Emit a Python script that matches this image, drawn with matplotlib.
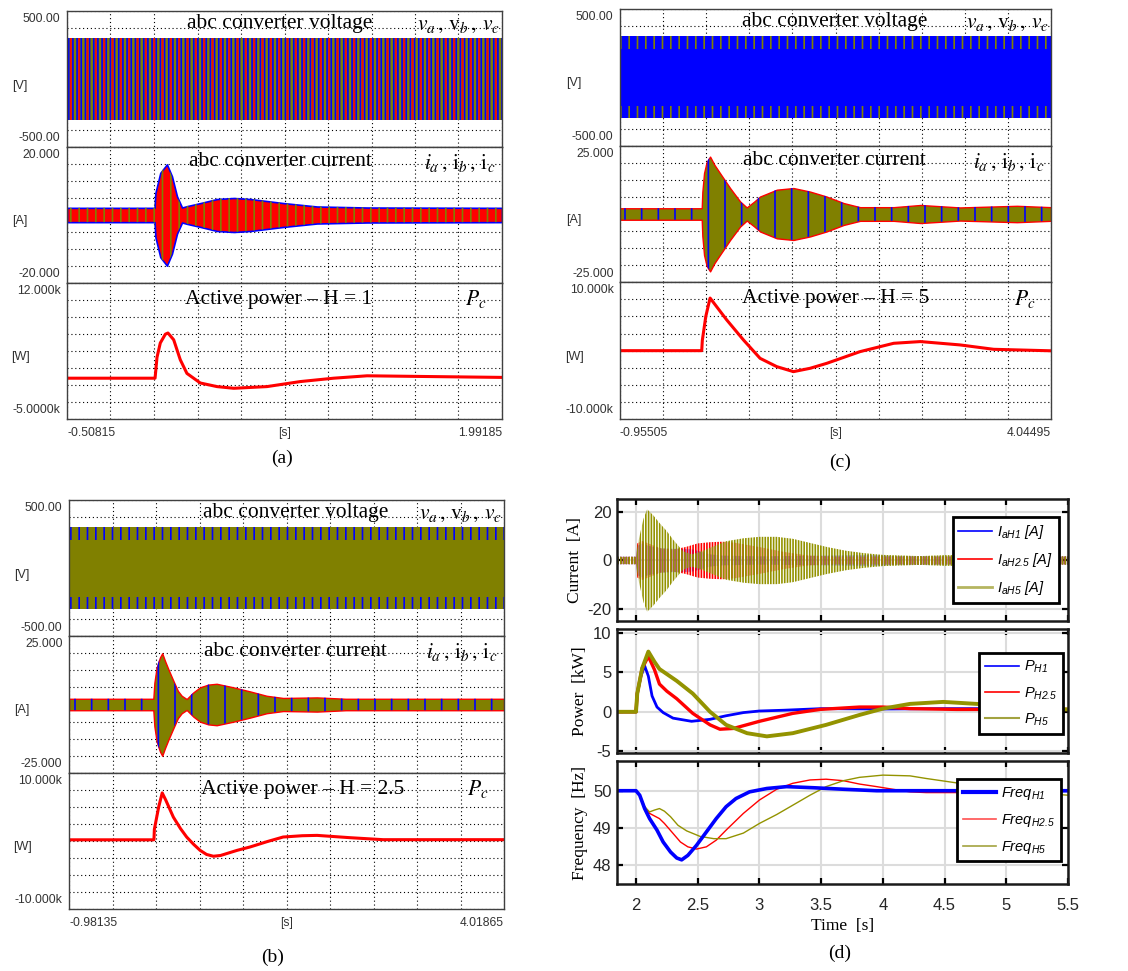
import numpy as np
import matplotlib
matplotlib.use("Agg")
import matplotlib.pyplot as plt
from matplotlib.lines import Line2D
from matplotlib.font_manager import FontProperties

W, H = 1128, 971
plt.rcParams.update({
    "font.family": "Liberation Sans",
    "mathtext.fontset": "stix",
    "mathtext.it": "Liberation Sans:italic",
    "mathtext.rm": "Liberation Sans:italic",
    "mathtext.bf": "Liberation Sans:bold:italic",
    "hatch.linewidth": 1.2,
    "axes.unicode_minus": False,
})

BLUE, RED, OLIVE, OLIVE_D = "#0000ff", "#ff0000", "#808000", "#939300"
SERIF = "Liberation Serif"

# ---------- panel (a): H = 1 ----------
A_TLIM = [-0.50815, 1.99185]
A_YLIM = [(-500, 500), (-20, 20), (-5000, 12000)]
A_YTXT = [("500.00", "-500.00"), ("20.000", "-20.000"), ("12.000k", "-5.0000k")]
A_XTXT = ["-0.50815", "[s]", "1.99185"]
A_V_PK = 300
A_I_T = [-0.50815, -0.005, 0.0, 0.028, 0.066, 0.095, 0.124, 0.153, 0.181, 0.258,
         0.354, 0.45, 0.545, 0.737, 0.928, 1.216, 1.99185]
A_I_PK = [2.1, 2.1, 6.5, 12.4, 14.9, 11.4, 5.5, 2.2, 2.6, 3.5,
          4.7, 5.0, 4.7, 3.5, 2.5, 2.2, 2.1]
A_P_T = [-0.50815, -0.002, 0.009, 0.028, 0.057, 0.072, 0.105, 0.143, 0.181, 0.258,
         0.354, 0.45, 0.641, 0.833, 1.024, 1.216, 1.599, 1.99185]
A_P_W = [100, 100, 2700, 4500, 5600, 5750, 4900, 2400, 700, -500,
         -950, -1160, -950, -320, 100, 400, 300, 200]

# ---------- panel (b): H = 2.5 ----------
B_TLIM = [-0.98135, 4.01865]
B_YLIM = [(-500, 500), (-25, 25), (-10000, 10000)]
B_YTXT = [("500.00", "-500.00"), ("25.000", "-25.000"), ("10.000k", "-10.000k")]
B_XTXT = ["-0.98135", "[s]", "4.01865"]
B_V_PK = 300
B_I_T = [-0.98135, -0.012, 0.0, 0.026, 0.065, 0.09, 0.122, 0.16, 0.218, 0.27,
         0.314, 0.371, 0.45, 0.525, 0.62, 0.716, 0.908, 1.1, 1.29, 1.48, 1.87, 2.2, 4.01865]
B_I_PK = [2.1, 2.1, 8, 13.6, 17.3, 18.8, 16, 13, 8.7, 5,
          3.2, 2.0, 4.5, 6.3, 7.3, 7.6, 6.3, 4.8, 3.2, 2.4, 2.6, 2.1, 2.1]
B_P_T = [-0.98135, -0.005, 0.0, 0.05, 0.09, 0.13, 0.218, 0.3, 0.371, 0.45,
         0.525, 0.6, 0.678, 0.76, 0.831, 0.95, 1.1, 1.3, 1.48, 1.7, 1.87, 2.25, 2.63, 4.01865]
B_P_W = [150, 150, 1700, 5000, 7030, 6000, 3480, 1800, 560, -500,
         -1390, -2000, -2260, -2150, -1870, -1400, -900, -100, 560, 750, 800, 460, 170, 170]

# ---------- panel (c): H = 5 ----------
C_TLIM = [-0.95505, 4.04495]
C_YLIM = [(-500, 500), (-25, 25), (-10000, 10000)]
C_YTXT = [("500.00", "-500.00"), ("25.000", "-25.000"), ("10.000k", "-10.000k")]
C_XTXT = ["-0.95505", "[s]", "4.04495"]
C_V_PK = 300
C_I_T = [-0.95505, -0.007, 0.0, 0.02, 0.05, 0.09, 0.14, 0.206, 0.322, 0.438,
         0.515, 0.6, 0.67, 0.864, 1.057, 1.25, 1.44, 1.64, 1.83, 2.22, 2.53, 2.99, 3.65, 4.04495]
C_I_PK = [2.1, 2.1, 8, 15, 19, 21, 18, 14.9, 9.5, 4.6,
          2.4, 4.5, 6.4, 8.9, 9.5, 8.2, 6.4, 4.0, 2.5, 2.5, 3.3, 2.4, 3.0, 2.5]
C_P_T = [-0.95505, -0.007, 0.0, 0.04, 0.09, 0.283, 0.477, 0.67, 0.864, 1.057,
         1.25, 1.444, 1.83, 2.22, 2.53, 2.99, 3.38, 4.04495]
C_P_W = [0, 0, 1500, 5000, 7700, 4500, 1570, -1120, -2340, -3070,
         -2580, -1850, -140, 1080, 1330, 840, 200, -20]

# ---------- panel (d): comparison ----------
D_XLIM = [1.846, 5.5]
D_XTICKS = [2, 2.5, 3, 3.5, 4, 4.5, 5, 5.5]
D_XTICKLABELS = ["2", "2.5", "3", "3.5", "4", "4.5", "5", "5.5"]
D_IH1_T = [1.846, 2.0, 2.01, 2.05, 2.1, 2.2, 2.3, 2.35, 2.45, 2.5, 2.6, 2.7, 3.0, 3.9, 4.1, 5.5]
D_IH1_PK = [1.5, 1.5, 6, 7, 6, 5, 4.8, 4.8, 4.6, 4, 2.5, 2, 1.7, 2.2, 1.8, 1.6]
D_IH25_T = [1.846, 2.0, 2.01, 2.05, 2.1, 2.2, 2.3, 2.4, 2.5, 2.6, 2.7, 2.8, 3.0, 3.2, 3.4, 3.6, 5.5]
D_IH25_PK = [1.5, 1.5, 7, 8, 7, 5, 4.5, 5.5, 7, 7.5, 7.7, 7.3, 5.5, 3.5, 2, 1.6, 1.6]
D_IH5_T = [1.846, 2.0, 2.02, 2.06, 2.09, 2.14, 2.19, 2.25, 2.3, 2.38, 2.45, 2.52, 2.6, 2.73,
           2.87, 3.0, 3.14, 3.27, 3.41, 3.55, 3.7, 3.85, 4.0, 4.3, 4.5, 4.7, 5.0, 5.5]
D_IH5_PK = [1.5, 1.5, 8, 17, 21, 18.5, 15.4, 12, 8.6, 3.8, 2.5, 3.5, 5.2, 7.9,
            9.1, 9.7, 9.7, 8.9, 7.2, 5.5, 4, 3, 2.3, 1.8, 2.2, 2.2, 1.7, 1.7]

D_PH1_T = [1.846, 2.0, 2.01, 2.04, 2.07, 2.1, 2.13, 2.17, 2.22, 2.3, 2.45, 2.6, 2.73, 2.87,
           3.0, 3.2, 3.5, 4.0, 4.5, 5.0, 5.5]
D_PH1_KW = [0, 0, 2.3, 4.5, 5.8, 4.5, 2.0, 0.6, -0.1, -0.8, -1.2, -0.95, -0.5, -0.1,
            0.1, 0.2, 0.4, 0.35, 0.4, 0.4, 0.3]
D_PH25_T = [1.846, 2.0, 2.01, 2.05, 2.1, 2.15, 2.19, 2.25, 2.33, 2.46, 2.6, 2.68, 2.79,
            3.0, 3.27, 3.49, 3.81, 4.0, 4.22, 4.6, 5.0, 5.5]
D_PH25_KW = [0, 0, 2.3, 5.5, 7.0, 5.3, 3.5, 2.6, 1.65, -0.2, -1.65, -2.2, -2.1,
             -1.2, -0.2, 0.3, 0.6, 0.6, 0.4, 0.3, 0.3, 0.3]
D_PH5_T = [1.846, 2.0, 2.01, 2.05, 2.1, 2.15, 2.19, 2.33, 2.46, 2.6, 2.73, 2.9, 3.06,
           3.27, 3.54, 3.81, 4.0, 4.22, 4.49, 4.81, 5.2, 5.5]
D_PH5_KW = [0, 0, 2.3, 5.5, 7.6, 6.3, 5.4, 3.9, 2.3, 0, -1.65, -2.7, -3.1,
            -2.7, -1.65, -0.4, 0.4, 1.0, 1.25, 0.95, 0.5, 0.3]

D_FH1_T = [1.846, 2.0, 2.03, 2.07, 2.11, 2.17, 2.22, 2.28, 2.33, 2.37, 2.42, 2.49, 2.57,
           2.65, 2.73, 2.81, 2.92, 3.06, 3.22, 3.44, 3.68, 3.95, 5.5]
D_FH1_HZ = [50, 50, 49.88, 49.52, 49.25, 48.94, 48.62, 48.35, 48.19, 48.14, 48.26, 48.53, 48.89,
            49.25, 49.57, 49.79, 49.97, 50.06, 50.11, 50.08, 50.04, 50.0, 50.0]
D_FH25_T = [1.846, 2.0, 2.03, 2.07, 2.11, 2.15, 2.19, 2.23, 2.29, 2.36, 2.42, 2.49, 2.57,
            2.65, 2.73, 2.87, 3.0, 3.14, 3.27, 3.41, 3.54, 3.68, 3.81, 3.95, 4.08, 4.22,
            4.35, 4.62, 5.5]
D_FH25_HZ = [50, 50, 49.88, 49.57, 49.39, 49.32, 49.25, 49.12, 48.89, 48.62, 48.49, 48.43, 48.49,
             48.67, 48.94, 49.39, 49.75, 50.04, 50.2, 50.29, 50.31, 50.27, 50.18, 50.11, 50.04, 49.97,
             49.95, 49.95, 50.0]
D_FH5_T = [1.846, 2.0, 2.03, 2.07, 2.11, 2.15, 2.19, 2.23, 2.28, 2.34, 2.41, 2.52, 2.63,
           2.73, 2.87, 3.0, 3.14, 3.27, 3.41, 3.54, 3.68, 3.81, 4.0, 4.22, 4.35, 4.62, 4.89, 5.5]
D_FH5_HZ = [50, 50, 49.88, 49.57, 49.43, 49.48, 49.52, 49.45, 49.3, 49.07, 48.92, 48.77, 48.71,
            48.71, 48.86, 49.12, 49.36, 49.61, 49.88, 50.11, 50.27, 50.36, 50.42, 50.4, 50.33, 50.2,
            50.02, 49.88]

fig = plt.figure(figsize=(W / 100, H / 100), dpi=100)


def px(x, y):
    return x / W, 1 - y / H


def pscad_axes(top, bot, left, right):
    h = (bot - top) / 3
    return [fig.add_axes([left / W, 1 - (top + (k + 1) * h) / H, (right - left) / W, h / H])
            for k in range(3)]


def pscad_style(ax, tlim, ylim, txt):
    ax.set_xlim(tlim)
    ax.set_ylim(ylim)
    ax.set_xticks(np.linspace(tlim[0], tlim[1], 11))
    ax.set_yticks(np.linspace(ylim[0], ylim[1], 9))
    ax.tick_params(length=0, labelleft=False, labelbottom=False)
    ax.grid(True, color="k", ls=(0, (1, 2.5)), lw=0.8)
    ax.set_axisbelow(True)
    for s in ax.spines.values():
        s.set_color("#404040")
        s.set_linewidth(1.0)
    ax.text(-0.015, 0.985, txt[0], transform=ax.transAxes, ha="right", va="top",
            fontsize=8.8, color="#333333")
    ax.text(-0.015, 0.02, txt[1], transform=ax.transAxes, ha="right", va="bottom",
            fontsize=8.8, color="#333333")


def pscad_panel(axs, tlim, ylims, ytxt, xtxt, vpk, it, ipk, pt, pw, vstyle, titlex, htxt):
    for ax, yl, tx in zip(axs, ylims, ytxt):
        pscad_style(ax, tlim, yl, tx)
    av, ai, ap = axs
    # voltage band
    if vstyle == "a":
        av.fill_between(tlim, -vpk, vpk, facecolor=OLIVE, edgecolor="none", lw=0)
        av.fill_between(tlim, -vpk, vpk, facecolor="none", edgecolor=BLUE, lw=0, hatch="||||")
        av.fill_between(tlim, -vpk, vpk, facecolor="none", edgecolor=RED, lw=0, hatch="||")
    else:
        base, notch = (BLUE, OLIVE) if vstyle == "c" else (OLIVE, BLUE)
        av.fill_between(tlim, -vpk, vpk, facecolor=base, edgecolor="none", lw=0)
        av.fill_between(tlim, vpk * 0.7, vpk, facecolor="none", edgecolor=notch, lw=0, hatch="||")
        av.fill_between(tlim, -vpk, -vpk * 0.7, facecolor="none", edgecolor=notch, lw=0, hatch="||")
    # current band
    ipk = np.array(ipk)
    if vstyle == "a":
        ai.fill_between(it, -ipk, ipk, facecolor=RED, edgecolor=BLUE, lw=1.2)
        ai.fill_between(it, -ipk, ipk, facecolor="none", edgecolor=OLIVE, lw=0, hatch="||")
    else:
        ai.fill_between(it, -ipk, ipk, facecolor=OLIVE, edgecolor=RED, lw=1.0)
        ai.fill_between(it, -ipk, ipk, facecolor="none", edgecolor=BLUE, lw=0, hatch="|")
    # power
    ap.plot(pt, pw, color=RED, lw=2.2)
    # texts
    av.text(titlex, 0.91, "abc converter voltage", transform=av.transAxes, ha="center",
            va="center", family=SERIF, fontsize=15.5)
    av.text(0.995, 0.9, r"$v_a\,,\,\mathrm{v}_b\,,\,v_c$", transform=av.transAxes, ha="right",
            va="center", fontsize=15.5)
    ai.text(titlex, 0.89, "abc converter current", transform=ai.transAxes, ha="center",
            va="center", family=SERIF, fontsize=15.5)
    ai.text(0.985, 0.88, r"$i_a\,,\,\mathrm{i}_b\,,\,\mathrm{i}_c$", transform=ai.transAxes,
            ha="right", va="center", fontsize=15.5)
    ap.text(titlex + htxt[1], 0.88, "Active power \u2013 H = " + htxt[0], transform=ap.transAxes,
            ha="center", va="center", family=SERIF, fontsize=15.5)
    ap.text(0.965, 0.88, r"$P_c$", transform=ap.transAxes, ha="right", va="center",
            fontsize=15.5)
    ap.text(0.0, -0.1, xtxt[0], transform=ap.transAxes, ha="left", va="center",
            fontsize=8.7, color="#333333")
    ap.text(0.5, -0.1, xtxt[1], transform=ap.transAxes, ha="center", va="center",
            fontsize=8.7, color="#333333")
    ap.text(1.0, -0.1, xtxt[2], transform=ap.transAxes, ha="right", va="center",
            fontsize=8.7, color="#333333")


# (a)
axa = pscad_axes(11, 419, 67, 502)
pscad_panel(axa, A_TLIM, A_YLIM, A_YTXT, A_XTXT, A_V_PK, A_I_T, A_I_PK, A_P_T, A_P_W,
            "a", 0.49, ("1", -0.004))
for lab, y in zip(["[V]", "[A]", "[W]"], [86, 221, 357]):
    fig.text(*px(20, y), lab, ha="center", va="center", fontsize=9, color="#333333")
fig.text(*px(282, 458), "(a)", ha="center", va="center", family=SERIF, fontsize=14)

# (c)
axc = pscad_axes(9, 419, 620, 1051)
pscad_panel(axc, C_TLIM, C_YLIM, C_YTXT, C_XTXT, C_V_PK, C_I_T, C_I_PK, C_P_T, C_P_W,
            "c", 0.497, ("5", 0.004))
for lab, y in zip(["[V]", "[A]", "[W]"], [83, 220, 357]):
    fig.text(*px(574, y), lab, ha="center", va="center", fontsize=9, color="#333333")
fig.text(*px(840, 462), "(c)", ha="center", va="center", family=SERIF, fontsize=14)

# (b)
axb = pscad_axes(500, 909, 69, 504)
pscad_panel(axb, B_TLIM, B_YLIM, B_YTXT, B_XTXT, B_V_PK, B_I_T, B_I_PK, B_P_T, B_P_W,
            "b", 0.52, ("2.5", 0.016))
for lab, y in zip(["[V]", "[A]", "[W]"], [575, 710, 847]):
    fig.text(*px(22, y), lab, ha="center", va="center", fontsize=9, color="#333333")
fig.text(*px(273, 957), "(b)", ha="center", va="center", family=SERIF, fontsize=14)

# (d)
d_rows = [(499, 621), (629, 753), (761, 884)]
axd = [fig.add_axes([617 / W, 1 - b / H, 451 / W, (b - t) / H]) for t, b in d_rows]
for ax in axd:
    ax.set_xlim(D_XLIM)
    ax.set_xticks(D_XTICKS)
    ax.set_xticklabels(D_XTICKLABELS)
    ax.grid(True, color="#dcdcdc", lw=1.5)
    ax.set_axisbelow(True)
    ax.tick_params(direction="in", length=4, width=1.6, top=True, right=True,
                   labelsize=12, labelcolor="#262626", pad=4)
    ax.tick_params(axis="x", pad=10)
    for s in ax.spines.values():
        s.set_linewidth(1.8)
        s.set_color("#1a1a1a")
for ax in axd[:2]:
    ax.tick_params(labelbottom=False)

leg_font = FontProperties(family="Liberation Sans", style="italic", size=10.5,
                          math_fontfamily="custom")
leg_kw = dict(prop=leg_font, frameon=True, fancybox=False, framealpha=1,
              edgecolor="black", handlelength=2.3, borderpad=0.4, labelspacing=0.68,
              handletextpad=0.35, borderaxespad=0)

ai = axd[0]
for t, pk, c in [(D_IH1_T, D_IH1_PK, BLUE), (D_IH25_T, D_IH25_PK, RED),
                 (D_IH5_T, D_IH5_PK, OLIVE_D)]:
    pk = np.array(pk)
    ai.fill_between(t, -pk, pk, facecolor="none", edgecolor=c, lw=0, hatch="||||||")
ai.set_ylim(-24.8, 25.2)
ai.set_yticks([-20, 0, 20])
ai.set_ylabel("Current  [A]", family=SERIF, fontsize=12.5)
ai.yaxis.set_label_coords(-0.075, 0.5)
h = [Line2D([], [], color=BLUE, lw=1.2), Line2D([], [], color=RED, lw=1.2),
     Line2D([], [], color="#b5b560", lw=2)]
lg = ai.legend(h, [r"$I_{aH1}$ [A]", r"$I_{aH2.5}$ [A]", r"$I_{aH5}$ [A]"],
               loc="upper right", bbox_to_anchor=(0.98, 0.852), **leg_kw)
lg.get_frame().set_linewidth(2)

ap = axd[1]
ap.plot(D_PH1_T, D_PH1_KW, color=BLUE, lw=2.0)
ap.plot(D_PH25_T, D_PH25_KW, color=RED, lw=2.4)
ap.plot(D_PH5_T, D_PH5_KW, color=OLIVE_D, lw=2.8)
ap.set_ylim(-5.2, 10.45)
ap.set_yticks([-5, 0, 5, 10])
ap.set_ylabel("Power  [kW]", family=SERIF, fontsize=12.5)
ap.yaxis.set_label_coords(-0.065, 0.5)
h = [Line2D([], [], color=BLUE, lw=1.2), Line2D([], [], color=RED, lw=1.2),
     Line2D([], [], color="#a3a340", lw=1.5)]
lg = ap.legend(h, [r"$P_{H1}$", r"$P_{H2.5}$", r"$P_{H5}$"],
               loc="upper right", bbox_to_anchor=(0.989, 0.806), **leg_kw)
lg.get_frame().set_linewidth(2)

af = axd[2]
af.plot(D_FH25_T, D_FH25_HZ, color=RED, lw=1.0)
af.plot(D_FH5_T, D_FH5_HZ, color=OLIVE_D, lw=1.0)
af.plot(D_FH1_T, D_FH1_HZ, color=BLUE, lw=2.6)
af.set_ylim(47.49, 50.8)
af.set_yticks([48, 49, 50])
af.set_ylabel("Frequency  [Hz]", family=SERIF, fontsize=12.5)
af.yaxis.set_label_coords(-0.065, 0.5)
af.set_xlabel("Time  [s]", family=SERIF, fontsize=12.5, labelpad=4)
h = [Line2D([], [], color=BLUE, lw=3), Line2D([], [], color="#ff5050", lw=1.2),
     Line2D([], [], color="#a3a340", lw=1.2)]
lg = af.legend(h, [r"$Freq_{H1}$", r"$Freq_{H2.5}$", r"$Freq_{H5}$"],
               loc="upper right", bbox_to_anchor=(0.984, 0.854), **leg_kw)
lg.get_frame().set_linewidth(2)

fig.text(*px(840, 953), "(d)", ha="center", va="center", family=SERIF, fontsize=14)

fig.savefig("out.png", dpi=100)
